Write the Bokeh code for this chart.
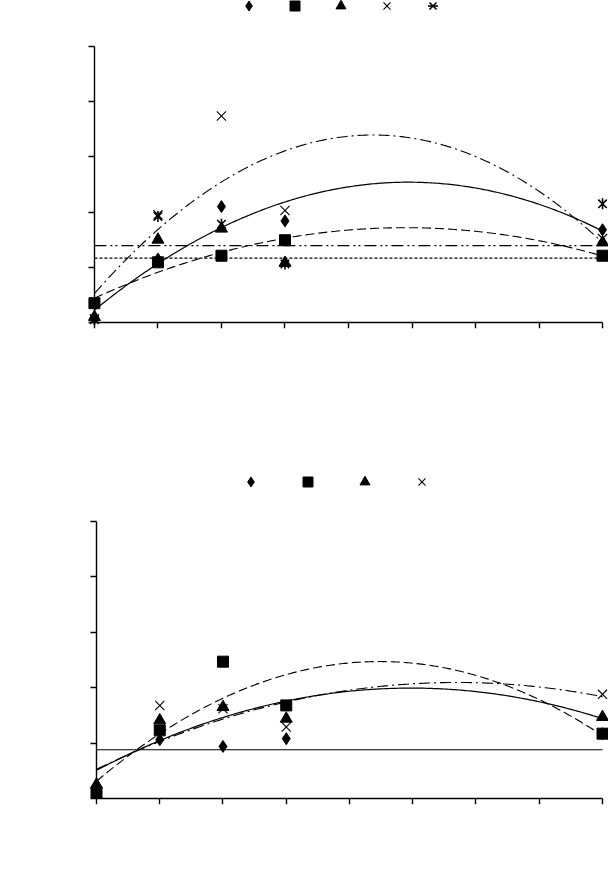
import numpy as np
from bokeh.plotting import figure
from bokeh.layouts import column
from bokeh.models import Legend, LegendItem, FixedTicker, Range1d, CustomJSTickFormatter
from bokeh.embed import file_html
from bokeh.resources import INLINE

# ---- data ----
x_vals = [0, 1, 2, 3, 8]
x_ticks = [0, 1, 2, 3, 4, 5, 6, 7, 8]
y_ticks = [0, 1, 2, 3, 4, 5]

top_diamond = [0.08, 1.15, 2.10, 1.84, 1.68]
top_square = [0.35, 1.09, 1.21, 1.49, 1.21]
top_triangle = [0.10, 1.50, 1.70, 1.08, 1.45]
top_cross = [0.07, 1.95, 3.74, 2.03, 1.52]
top_star = [0.05, 1.92, 1.78, 1.06, 2.15]

bot_diamond = [0.15, 1.06, 0.94, 1.08, 1.17]
bot_square = [0.11, 1.23, 2.47, 1.68, 1.17]
bot_triangle = [0.25, 1.41, 1.65, 1.44, 1.47]
bot_cross = [0.10, 1.68, 1.62, 1.29, 1.88]

XS = np.linspace(x_vals[0], x_vals[-1], 241)


def trend(y):
    return np.polyval(np.polyfit(x_vals, y, 2), XS)


def flat(p, y, **kw):
    m = float(np.mean(y))
    p.line([x_vals[0], x_vals[-1]], [m, m], line_color="black", **kw)


def make_panel(height, xr, yr, border_left, border_bottom):
    p = figure(width=608, height=height, x_range=Range1d(*xr), y_range=Range1d(*yr),
               output_backend="svg", toolbar_location=None,
               min_border_left=border_left, min_border_right=0, min_border_top=0,
               min_border_bottom=border_bottom)
    p.grid.visible = False
    p.outline_line_color = None
    p.background_fill_color = "white"
    for ax, ticks, bounds in ((p.xaxis[0], x_ticks, (x_ticks[0], x_ticks[-1])),
                              (p.yaxis[0], y_ticks, (y_ticks[0], y_ticks[-1]))):
        ax.ticker = FixedTicker(ticks=ticks)
        ax.bounds = bounds
        ax.fixed_location = 0
        ax.major_tick_in = 0
        ax.major_tick_out = 6
        ax.minor_tick_line_color = None
        ax.axis_line_width = 1.4
        ax.axis_line_color = "black"
        ax.major_tick_line_width = 1.4
        ax.major_tick_line_color = "black"
        ax.formatter = CustomJSTickFormatter(code="return ''")
    return p


def add_markers(p, series):
    rs = []
    for kind, y in series:
        if kind == "diamond":
            rs.append([p.scatter(x_vals, y, marker="diamond", size=12, color="black")])
        elif kind == "square":
            rs.append([p.scatter(x_vals, y, marker="square", size=11, color="black")])
        elif kind == "triangle":
            rs.append([p.scatter(x_vals, y, marker="triangle", size=12, color="black")])
        elif kind == "x":
            rs.append([p.scatter(x_vals, y, marker="x", size=13, line_color="black", line_width=1.1)])
        elif kind == "star":
            a = p.scatter(x_vals, y, marker="x", size=12, line_color="black", line_width=1.6)
            b = p.scatter(x_vals, y, marker="dash", angle=np.pi / 2, size=11,
                          line_color="black", line_width=1.6)
            rs.append([a, b])
    return rs


def add_legend(p, rs, loc, spacing):
    items = [LegendItem(label="", renderers=r) for r in rs]
    leg = Legend(items=items, orientation="horizontal", location=loc,
                 glyph_width=25, glyph_height=25, label_width=0, label_height=0,
                 label_standoff=0, spacing=spacing, padding=0, margin=0,
                 border_line_color=None, background_fill_alpha=0)
    p.add_layout(leg)


# ---- top panel ----
p1 = make_panel(428, (-0.15625, 8.09375), (-0.1087, 5.833), 80, 100)
p1.line(XS, trend(top_diamond), line_color="black", line_width=1.2)
p1.line(XS, trend(top_square), line_color="black", line_width=1.1, line_dash="9 4")
p1.line(XS, trend(top_cross), line_color="black", line_width=1.1, line_dash="11 4 2 4")
flat(p1, top_triangle, line_width=1.1, line_dash="3 2")
flat(p1, top_star, line_width=1.1, line_dash="12 4 2 3 2 4")
r1 = add_markers(p1, [("diamond", top_diamond), ("square", top_square),
                      ("triangle", top_triangle), ("x", top_cross), ("star", top_star)])
add_legend(p1, r1, (151.5, 310.5), 21)

# ---- bottom panel ----
p2 = make_panel(440, (-0.1897, 8.0949), (-0.1083, 6.679), 84, 64)
flat(p2, bot_diamond, line_width=1.2)
p2.line(XS, trend(bot_square), line_color="black", line_width=1.1, line_dash="9 4")
p2.line(XS, trend(bot_triangle), line_color="black", line_width=1.2)
p2.line(XS, trend(bot_cross), line_color="black", line_width=1.1, line_dash="11 4 2 4")
r2 = add_markers(p2, [("diamond", bot_diamond), ("square", bot_square),
                      ("triangle", bot_triangle), ("x", bot_cross)])
add_legend(p2, r2, (153.5, 310.5), 32)

layout = column(p1, p2, spacing=0)
open("out.html", "w").write(file_html(layout, INLINE))
